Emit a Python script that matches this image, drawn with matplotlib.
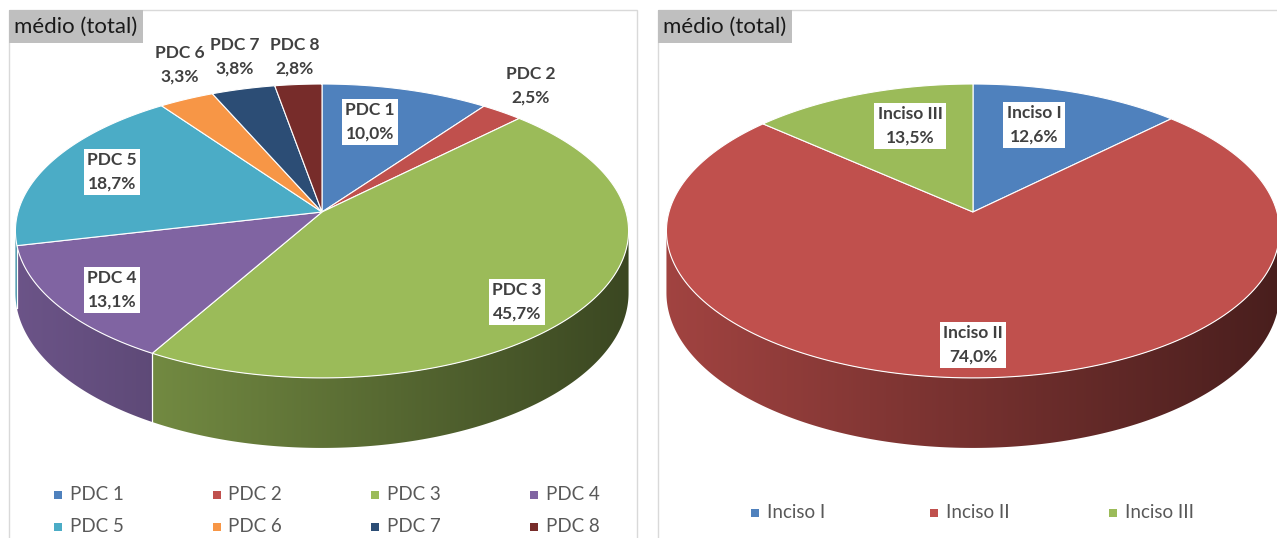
import numpy as np
import matplotlib
matplotlib.use("Agg")
from matplotlib import pyplot as plt
from matplotlib import patches

plt.rcParams['font.family'] = ['Lato', 'DejaVu Sans']

# data
pdc_names = ['PDC 1', 'PDC 2', 'PDC 3', 'PDC 4', 'PDC 5', 'PDC 6', 'PDC 7', 'PDC 8']
pdc_values = [10.0, 2.5, 45.7, 13.1, 18.7, 3.3, 3.8, 2.8]
pdc_colors = ['#4F81BD', '#C0504D', '#9BBB59', '#8064A2', '#4BACC6', '#F79646', '#2C4D75', '#772C2A']

inc_names = ['Inciso I', 'Inciso II', 'Inciso III']
inc_values = [12.6, 74.0, 13.5]
inc_colors = ['#4F81BD', '#C0504D', '#9BBB59']

title = 'médio (total)'

# pie geometry (pixels)
A, B, K, D = 304.0, 144.5, 0.129, 61.0
W, H = 1277, 538


def proj(cx, cy, th, z=0.0):
	w = 1 + K * np.cos(th)
	return cx + A * np.sin(th) / w, cy - B * np.cos(th) / w + D * z / w


def draw_pie(ax, cx, cy, values, colors):
	frac = np.array(values) / np.sum(values)
	edges = np.concatenate(([0], np.cumsum(frac))) * 2 * np.pi
	tv0 = np.arccos(-K)
	tv1 = 2 * np.pi - tv0
	xl, _ = proj(cx, cy, tv1)
	xr, _ = proj(cx, cy, tv0)

	# side walls, shaded light -> dark from left to right
	for i, col in enumerate(colors):
		a0 = max(edges[i], tv0)
		a1 = min(edges[i + 1], tv1)
		if a1 <= a0:
			continue
		t = np.linspace(a0, a1, 200)
		xt, yt = proj(cx, cy, t)
		xb, yb = proj(cx, cy, t, 1.0)
		verts = np.concatenate([np.column_stack([xt, yt]), np.column_stack([xb, yb])[::-1]])
		poly = patches.Polygon(verts, closed=True, facecolor='none', edgecolor='none')
		ax.add_patch(poly)
		gx = np.linspace(0, 1, 256)
		f = 0.84 - 0.46 * gx
		rgb = np.array(matplotlib.colors.to_rgb(col))
		img = np.clip(f[None, :, None] * rgb[None, None, :], 0, 1)
		img = np.repeat(img, 2, axis=0)
		im = ax.imshow(img, extent=(xl, xr, cy + 250, cy - 250), aspect='auto', zorder=1,
			interpolation='bilinear')
		im.set_clip_path(poly)
		if tv0 < edges[i] < tv1:
			x0, y0 = proj(cx, cy, edges[i])
			x1, y1 = proj(cx, cy, edges[i], 1.0)
			ax.plot([x0, x1], [y0, y1], color='white', lw=0.9, zorder=2)

	# top
	for i, col in enumerate(colors):
		t = np.linspace(edges[i], edges[i + 1], 200)
		xt, yt = proj(cx, cy, t)
		verts = np.concatenate([[[cx, cy]], np.column_stack([xt, yt])])
		ax.add_patch(patches.Polygon(verts, closed=True, facecolor=col, edgecolor='white',
			lw=0.8, zorder=3))


def label(ax, x, y, txt, box=True):
	kw = dict(ha='center', va='center', fontsize=12.5, fontweight='bold', color='#404040',
		linespacing=1.55, zorder=5)
	if box:
		kw['bbox'] = dict(facecolor='white', edgecolor='none', pad=2.5)
	ax.text(x, y, txt, **kw)


def legend_item(ax, x, y, col, txt):
	ax.add_patch(patches.Rectangle((x - 4, y - 4), 8, 8, facecolor=col, edgecolor='none', zorder=5))
	ax.text(x + 12, y, txt, ha='left', va='center', fontsize=13.5, color='#595959', zorder=5)


fig = plt.figure(figsize=(W / 100, H / 100), dpi=100)
ax = fig.add_axes([0, 0, 1, 1])
ax.set_xlim(0, W)
ax.set_ylim(H, 0)
ax.axis('off')

# panel frames and titles
for x0, x1 in [(9, 637), (658, 1300)]:
	ax.add_patch(patches.Rectangle((x0, 10), x1 - x0, 600, facecolor='none',
		edgecolor='#D9D9D9', lw=1, zorder=0))
	ax.add_patch(patches.Rectangle((x0, 10), 134, 33, facecolor='#BFBFBF', edgecolor='none', zorder=4))
	ax.text(x0 + 5, 27, title, ha='left', va='center', fontsize=16, color='#1A1A1A', zorder=5)

draw_pie(ax, 322, 212, pdc_values, pdc_colors)
draw_pie(ax, 973, 212, inc_values, inc_colors)

pct = ['{:.1f}%'.format(v).replace('.', ',') for v in pdc_values]
pdc_pos = [(370, 122), (531, 86), (517, 302), (112, 290), (112, 172), (180, 65), (235, 57), (295, 57)]
for i, (x, y) in enumerate(pdc_pos):
	label(ax, x, y, pdc_names[i] + '\n' + pct[i], box=i not in (1, 5, 6, 7))

pct2 = ['{:.1f}%'.format(v).replace('.', ',') for v in inc_values]
inc_pos = [(1034, 125), (973, 345), (910, 126)]
for i, (x, y) in enumerate(inc_pos):
	label(ax, x, y, inc_names[i] + '\n' + pct2[i])

# legends
for i, name in enumerate(pdc_names):
	legend_item(ax, 58 + 158.5 * (i % 4), 495 + 32 * (i // 4), pdc_colors[i], name)
for i, name in enumerate(inc_names):
	legend_item(ax, 755 + 179 * i, 513, inc_colors[i], name)

ax.set_xlim(0, W)
ax.set_ylim(H, 0)
fig.savefig('out.png', dpi=100)
